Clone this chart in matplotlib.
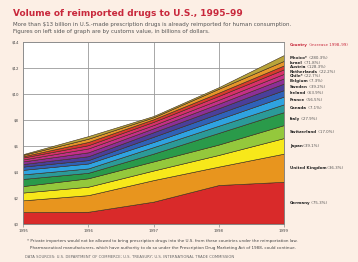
import matplotlib
matplotlib.use("Agg")
import matplotlib.pyplot as plt
import matplotlib.transforms as mtransforms
import numpy as np

years = [1995, 1996, 1997, 1998, 1999]

# stacked bottom -> top, values in billions of dollars (customs value)
countries = ["Germany", "United Kingdom", "Japan", "Switzerland", "Italy",
             "Canada", "France", "Ireland", "Sweden", "Belgium", "Chile*",
             "Netherlands", "Austria", "Israel", "Mexico*"]
germany = [0.90, 0.92, 1.70, 2.98, 3.23]
united_kingdom = [0.90, 1.28, 1.66, 1.42, 2.17]
japan = [0.60, 0.65, 0.74, 0.90, 1.20]
switzerland = [0.50, 0.65, 0.70, 0.80, 1.00]
italy = [0.55, 0.42, 0.60, 0.90, 1.00]
canada = [0.35, 0.34, 0.50, 0.55, 0.60]
france = [0.35, 0.38, 0.40, 0.50, 0.60]
ireland = [0.25, 0.26, 0.40, 0.45, 0.50]
sweden = [0.20, 0.30, 0.35, 0.40, 0.50]
belgium = [0.20, 0.30, 0.30, 0.35, 0.40]
chile = [0.15, 0.30, 0.25, 0.30, 0.35]
netherlands = [0.15, 0.25, 0.25, 0.30, 0.35]
austria = [0.10, 0.25, 0.20, 0.25, 0.30]
israel = [0.10, 0.25, 0.15, 0.30, 0.35]
mexico = [0.06, 0.20, 0.10, 0.12, 0.45]
increase = ["75.3%", "36.3%", "39.1%", "17.0%", "27.9%", "7.1%", "56.5%",
            "63.9%", "39.2%", "7.3%", "22.7%", "22.2%", "128.3%", "71.8%", "280.3%"]

y_ticks = [0, 2, 4, 6, 8, 10, 12, 14]
y_tick_labels = ["$0", "$2", "$4", "$6", "$8", "$10", "$12", "$14"]

series = [germany, united_kingdom, japan, switzerland, italy, canada, france,
          ireland, sweden, belgium, chile, netherlands, austria, israel, mexico]
colors = ["#d92a2a", "#e8951e", "#f7e81a", "#94c83c", "#2a9a4a", "#2b9a98",
          "#2fa3e0", "#2f62b8", "#4a3f9a", "#8c2f96", "#c42f88", "#d8306a",
          "#d83a2e", "#e6952a", "#b9a43a"]

BG = "#fcefe5"
W, H = 358, 262
fig = plt.figure(figsize=(W / 100, H / 100), dpi=100, facecolor=BG)

def fx(px):
    return px / W

def fy(py):
    return 1 - py / H

ax = fig.add_axes([fx(23), fy(223.7), fx(284) - fx(23), fy(42) - fy(223.7)])
ax.set_facecolor("white")

ax.stackplot(years, *series, colors=colors, edgecolor="#3a2a1a", linewidth=0.4)

ax.set_xlim(1995, 1999)
ax.set_ylim(0, 14)
ax.set_xticks(years)
ax.set_xticklabels([str(y) for y in years], fontsize=2.8, color="#444444")
ax.set_yticks(y_ticks)
ax.set_yticklabels(y_tick_labels, fontsize=2.8, color="#444444")
ax.tick_params(axis="x", length=2, width=0.5, color="#888888", pad=2)
ax.tick_params(axis="y", length=0, pad=3)
ax.grid(True, color="#9a9a9a", linewidth=0.6)
ax.set_axisbelow(True)
for s in ax.spines.values():
    s.set_color("#8a8a8a")
    s.set_linewidth(0.6)

# right-side labels positioned at band middles in 1999
tops = np.cumsum([s[-1] for s in series])
bottoms = tops - np.array([s[-1] for s in series])
mids = (tops + bottoms) / 2
pos = list(mids)
gap = 0.33
for i in range(1, len(pos)):
    if pos[i] - pos[i - 1] < gap:
        pos[i] = pos[i - 1] + gap
trans = mtransforms.blended_transform_factory(ax.transAxes, ax.transData)
for name, inc, yv in zip(countries, increase, pos):
    t = ax.text(1.022, yv, name, transform=trans, fontsize=2.9, fontweight="bold",
                color="#222222", va="center", ha="left", clip_on=False)
    ax.annotate(" (" + inc + ")", xy=(1, 0.5), xycoords=t, fontsize=2.9,
                color="#555555", va="center", ha="left", annotation_clip=False)

hdr = fig.text(fx(290), fy(45), "Country", fontsize=2.9, fontweight="bold",
               color="#c8283c", va="center", ha="left")
ax.annotate(" (increase 1998–99)", xy=(1, 0.5), xycoords=hdr, fontsize=2.9,
            color="#c8283c", va="center", ha="left", annotation_clip=False)

fig.text(fx(13), fy(14), "Volume of reimported drugs to U.S., 1995–99",
         fontsize=6.5, fontweight="bold", color="#c8283c", va="center", ha="left")
fig.text(fx(13), fy(24.5),
         "More than $13 billion in U.S.-made prescription drugs is already reimported for human consumption.",
         fontsize=4.0, color="#555555", va="center", ha="left")
fig.text(fx(13), fy(32),
         "Figures on left side of graph are by customs value, in billions of dollars.",
         fontsize=4.0, color="#555555", va="center", ha="left")

fig.text(fx(27), fy(241),
         "* Private importers would not be allowed to bring prescription drugs into the U.S. from these countries under the reimportation law.",
         fontsize=3.0, color="#444444", va="center", ha="left")
fig.text(fx(30), fy(248),
         "Pharmaceutical manufacturers, which have authority to do so under the Prescription Drug Marketing Act of 1988, could continue.",
         fontsize=3.0, color="#444444", va="center", ha="left")
fig.text(fx(25), fy(257),
         "DATA SOURCES: U.S. DEPARTMENT OF COMMERCE; U.S. TREASURY; U.S. INTERNATIONAL TRADE COMMISSION",
         fontsize=2.7, color="#666666", va="center", ha="left")

fig.savefig("out.png", dpi=100, facecolor=BG)
